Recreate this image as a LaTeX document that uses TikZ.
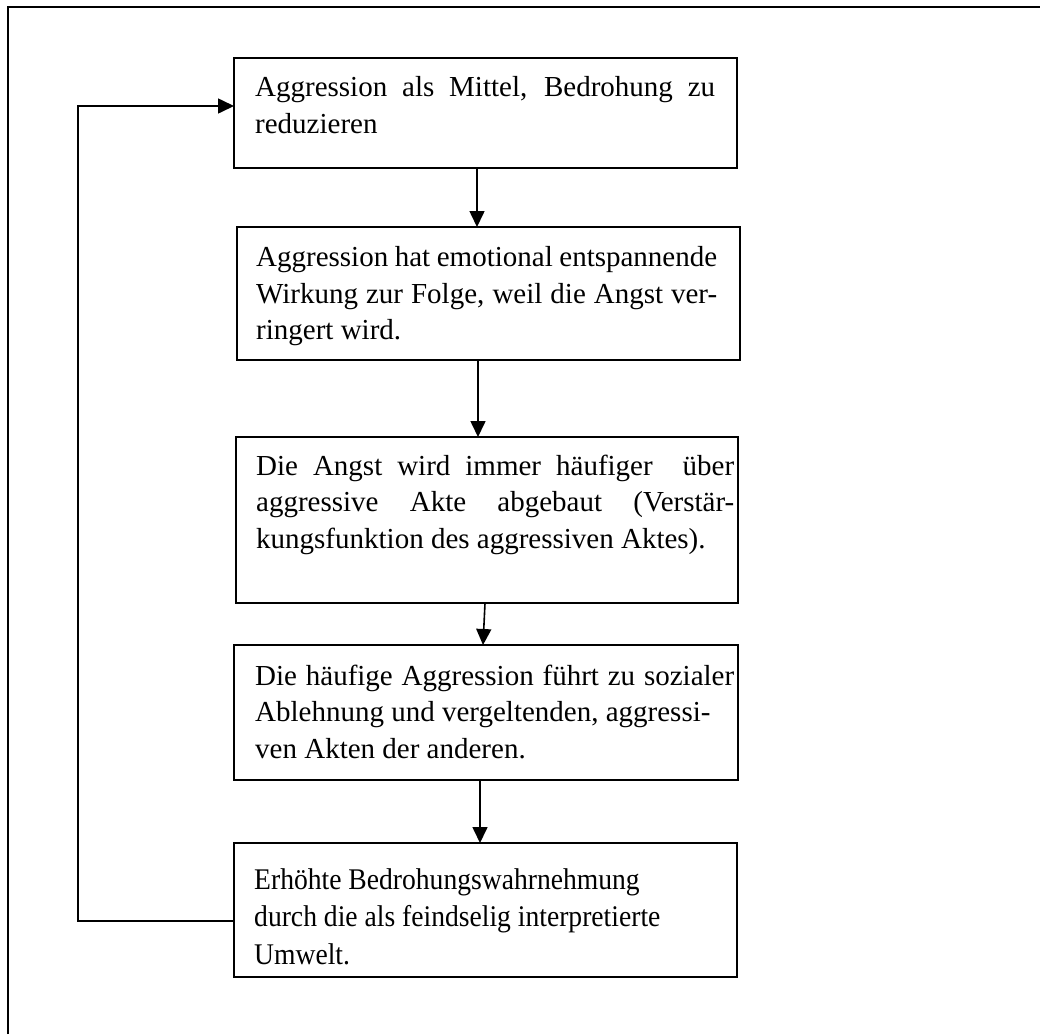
\documentclass[tikz,border=0pt]{standalone}
\usepackage{fontspec}
\setmainfont{Liberation Serif}
\usetikzlibrary{arrows.meta}
\newcommand{\jline}[2]{\makebox[#1][s]{#2}}
\begin{document}
\begin{tikzpicture}[x=1pt,y=-1pt,
  box/.style={draw, line width=1.8pt, inner sep=0pt, outer sep=0pt},
  txt/.style={anchor=base west, inner sep=0pt, font=\fontsize{29}{36.5}\selectfont},
  arr/.style={line width=1.6pt, -{Triangle[width=15pt,length=16pt]}},
  frame/.style={line width=2.8pt}]
\useasboundingbox (0,0) rectangle (1040,1034);
% outer frame
\coordinate (f0) at (8,1034);
\coordinate (f1) at (8,7);
\coordinate (f2) at (1040,7);
\draw[frame] (f0) -- (f1) -- (f2);
% boxes
\node[box, minimum width=503pt, minimum height=110pt] (b1) at (485.5,113) {};
\node[box, minimum width=503pt, minimum height=133pt] (b2) at (488.5,293.5) {};
\node[box, minimum width=502pt, minimum height=166pt] (b3) at (487,520) {};
\node[box, minimum width=504pt, minimum height=135pt] (b4) at (486,712.5) {};
\node[box, minimum width=503pt, minimum height=134pt] (b5) at (485.5,910) {};
% texts
\node[txt] (t1) at (255,96.7) {\parbox[t]{520pt}{\jline{460pt}{Aggression als Mittel, Bedrohung zu}\\reduzieren}};
\node[txt] (t2) at (256,266.7) {\parbox[t]{520pt}{\jline{461pt}{Aggression hat emotional entspannende}\\\jline{461pt}{Wirkung zur Folge, weil die Angst ver-}\\ringert wird.}};
\node[txt] (t3) at (256,475) {\parbox[t]{520pt}{\jline{478pt}{Die Angst wird immer häufiger\ \ über}\\\jline{478pt}{aggressive Akte abgebaut (Verstär-}\\kungsfunktion des aggressiven Aktes).}};
\node[txt] (t4) at (255,685) {\parbox[t]{520pt}{\jline{479pt}{Die häufige Aggression führt zu sozialer}\\Ablehnung und vergeltenden, aggressi-\\ven Akten der anderen.}};
\node[txt, font=\fontsize{30}{37.5}\selectfont] (t5) at (254,889) {\scalebox{0.92}[1]{\parbox[t]{520pt}{Erhöhte Bedrohungswahrnehmung\\durch die als feindselig interpretierte\\Umwelt.}}};
% connectors
\draw[arr] ([xshift=-8.5pt]b1.south) -- ([xshift=-8.5pt]b1.south |- b2.north);
\draw[arr] ([xshift=-10.5pt]b2.south) -- ([xshift=-10.5pt]b2.south |- b3.north);
\draw[arr] ([xshift=-2pt]b3.south) -- ([xshift=-3pt]b4.north);
\draw[arr] ([xshift=-6pt]b4.south) -- ([xshift=-6pt]b4.south |- b5.north);
\coordinate (c1) at (78,921);
\coordinate (c2) at (78,106);
\draw[arr] ([yshift=-11pt]b5.west) -- (c1) -- (c2) -- ([yshift=7pt]b1.west);
\end{tikzpicture}
\end{document}
